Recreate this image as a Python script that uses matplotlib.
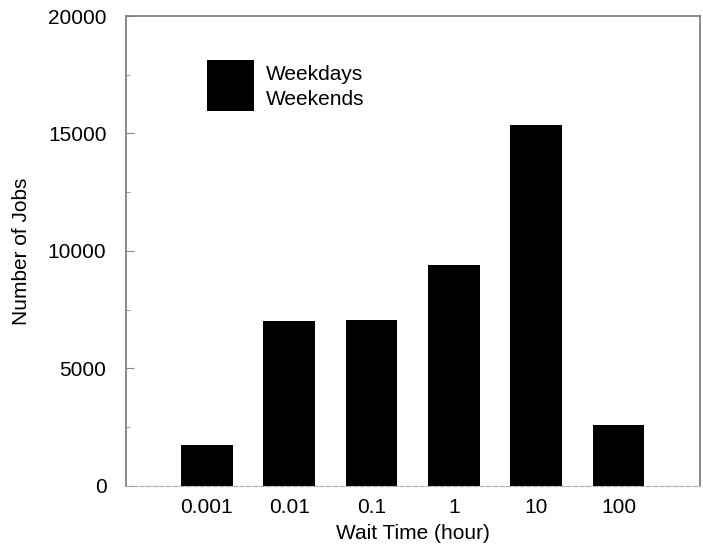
import numpy as np
import matplotlib.pyplot as plt

plt.rcParams['font.family'] = ['Liberation Sans', 'DejaVu Sans']

wait_labels = ['0.001', '0.01', '0.1', '1', '10', '100']
weekdays = [1300, 5300, 5400, 7200, 12850, 2000]
weekends = [450, 1700, 1650, 2200, 2500, 580]

fig = plt.figure(figsize=(7.03, 5.5), dpi=100)
ax = fig.add_axes([0.179, 0.1164, 0.8167, 0.8545])

x = np.arange(len(wait_labels))
ax.bar(x, weekdays, width=0.63, color='black', linewidth=0, label='Weekdays')
ax.bar(x, weekends, width=0.63, bottom=weekdays, color='black',
       linewidth=0, label='Weekends')

ax.set_xlim(-0.985, 5.99)
ax.set_ylim(0, 20000)
ax.set_xticks(x)
ax.set_xticklabels(wait_labels)
ax.set_yticks([0, 5000, 10000, 15000, 20000])
ax.set_yticks([2500, 7500, 12500, 17500], minor=True)
ax.tick_params(axis='x', length=0, labelsize=15, pad=9)
ax.tick_params(axis='y', which='both', direction='in', labelsize=15,
               color='#888888', pad=14)
ax.tick_params(axis='y', which='major', length=6)
ax.tick_params(axis='y', which='minor', length=3)

for side in ['left', 'right', 'top']:
    ax.spines[side].set_color('#777777')
    ax.spines[side].set_linewidth(1.2)
ax.spines['bottom'].set_color('#aaaaaa')
ax.spines['bottom'].set_linestyle((0, (4, 2)))
ax.spines['bottom'].set_linewidth(0.8)

ax.set_xlabel('Wait Time (hour)', fontsize=15, labelpad=5)
ax.set_ylabel('Number of Jobs', fontsize=15, labelpad=12)

ax.legend(loc='upper left', bbox_to_anchor=(0.141, 0.906), frameon=False,
          fontsize=15, handlelength=2.25, handleheight=1.5, labelspacing=0,
          handletextpad=0.6, borderpad=0, borderaxespad=0)

fig.savefig('out.png', dpi=100)
